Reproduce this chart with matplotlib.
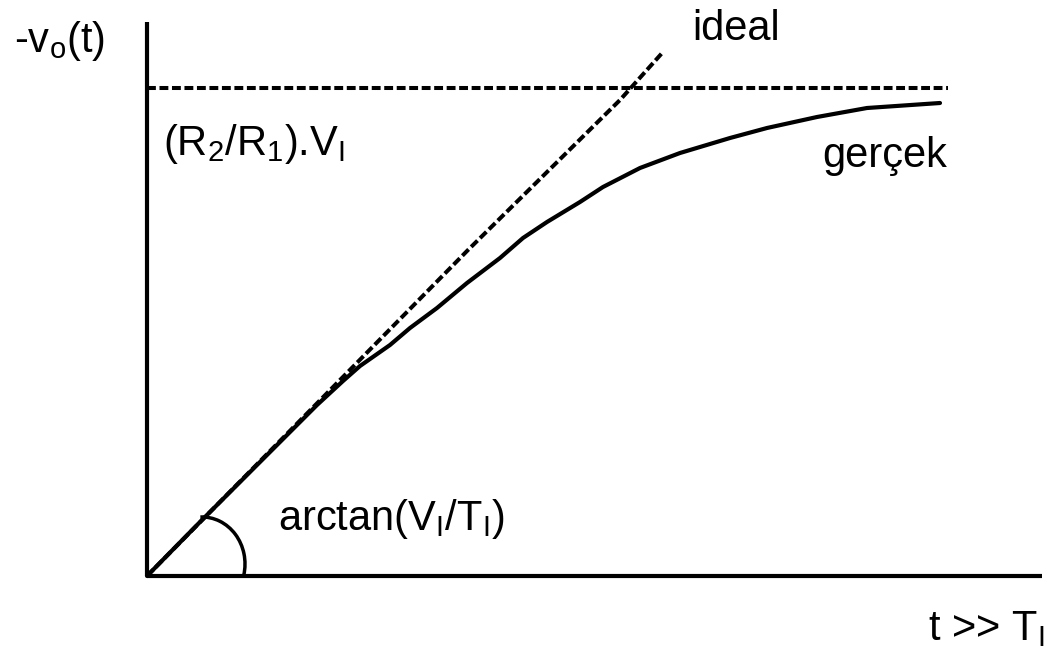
import matplotlib
matplotlib.use("Agg")
import matplotlib.pyplot as plt
from matplotlib.patches import Arc

plt.rcParams['font.family'] = ['Liberation Sans', 'DejaVu Sans']
plt.rcParams['mathtext.default'] = 'regular'

# kazanç sınırı (R2/R1).VI
v_sat = 4.88
t_end = 8.01

# ideal entegratör (doğrusal)
t_ideal = [0.00, 3.21, 4.73, 5.16]
v_ideal = [0.00, 3.26, 4.76, 5.24]

# gerçek entegratör
t_real = [0.00, 0.53, 1.03, 1.46, 1.70, 1.96, 2.13, 2.43, 2.63, 2.90,
          3.20, 3.53, 3.76, 4.00, 4.33, 4.56, 4.93, 5.33, 5.83, 6.20,
          6.70, 7.20, 7.93]
v_real = [0.00, 0.54, 1.04, 1.47, 1.71, 1.95, 2.10, 2.31, 2.48, 2.68,
          2.93, 3.18, 3.38, 3.54, 3.74, 3.89, 4.08, 4.23, 4.38, 4.48,
          4.59, 4.68, 4.73]

fig = plt.figure(figsize=(10.52, 6.53), dpi=100)
ax = fig.add_axes([0, 0, 1, 1])
ax.set_xlim(-1.47, 9.05)
ax.set_ylim(-0.77, 5.76)
ax.axis('off')

# eksenler
ax.plot([0, 0], [0, 5.54], color='black', lw=3, solid_capstyle='butt')
ax.plot([0, 8.95], [0, 0], color='black', lw=3, solid_capstyle='butt')

ax.plot([0, t_end], [v_sat, v_sat], color='black', lw=2.9, dashes=(2.2, 0.9))
ax.plot(t_ideal, v_ideal, color='black', lw=2.9, dashes=(2.2, 0.9))
ax.plot(t_real, v_real, color='black', lw=3, solid_capstyle='round',
        solid_joinstyle='round')

# açı yayı
ax.add_patch(Arc((0.55, 0.12), 0.86, 0.94, theta1=-15, theta2=92,
                 color='black', lw=2.5))

fs = 30
ax.text(-1.33, 5.24, '-v$_o$(t)', fontsize=fs, va='baseline')
ax.text(5.45, 5.36, 'ideal', fontsize=fs, va='baseline')
ax.text(0.16, 4.21, '(R$_2$/R$_1$).V$_I$', fontsize=fs, va='baseline')
ax.text(6.75, 4.09, 'gerçek', fontsize=fs, va='baseline')
ax.text(1.31, 0.46, 'arctan(V$_I$/T$_I$)', fontsize=fs, va='baseline')
ax.text(7.81, -0.64, 't >> T$_I$', fontsize=fs, va='baseline')

fig.savefig('out.png', dpi=100)
